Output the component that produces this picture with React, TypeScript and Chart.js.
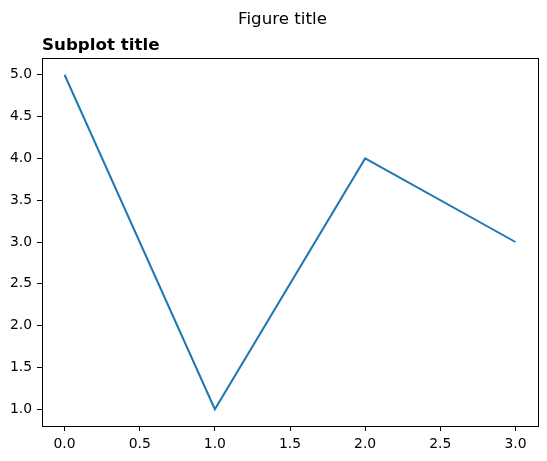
import React, { useEffect, useRef } from 'react';
import { Chart, registerables } from 'chart.js';

Chart.register(...registerables);

const xValues = [0, 1, 2, 3];
const yValues = [5, 1, 4, 3];
const xTicks = [0, 0.5, 1, 1.5, 2, 2.5, 3];
const yTicks = [1, 1.5, 2, 2.5, 3, 3.5, 4, 4.5, 5];

const FONT = "'DejaVu Sans', sans-serif";

// matplotlib-like frame and titles
const framePlugin = {
  id: 'frame',
  afterDraw(chart: Chart) {
    const { ctx, chartArea } = chart;
    ctx.save();
    ctx.strokeStyle = '#000';
    ctx.lineWidth = 1;
    ctx.strokeRect(
      Math.round(chartArea.left) + 0.5,
      Math.round(chartArea.top) + 0.5,
      Math.round(chartArea.right - chartArea.left),
      Math.round(chartArea.bottom - chartArea.top)
    );
    ctx.fillStyle = '#000';
    ctx.textBaseline = 'alphabetic';
    ctx.font = `16.7px ${FONT}`;
    ctx.textAlign = 'center';
    ctx.fillText('Figure title', 282.5, 24);
    ctx.font = `bold 16.7px ${FONT}`;
    ctx.textAlign = 'left';
    ctx.fillText('Subplot title', chartArea.left, 50);
    ctx.restore();
  },
};

export default function App() {
  const canvasRef = useRef<HTMLCanvasElement>(null);

  useEffect(() => {
    if (!canvasRef.current) return;
    const chart = new Chart(canvasRef.current, {
      type: 'line',
      data: {
        datasets: [
          {
            data: xValues.map((x, i) => ({ x, y: yValues[i] })),
            borderColor: '#1f77b4',
            borderWidth: 2,
            pointRadius: 0,
            fill: false,
            tension: 0,
          },
        ],
      },
      options: {
        responsive: false,
        animation: false,
        devicePixelRatio: 1,
        layout: { padding: { top: 58, right: 9, bottom: 0, left: 0 } },
        plugins: {
          legend: { display: false },
          tooltip: { enabled: false },
          title: { display: false },
        },
        scales: {
          x: {
            type: 'linear',
            min: -0.15,
            max: 3.15,
            afterBuildTicks: (scale: any) => {
              scale.ticks = xTicks.map((v) => ({ value: v }));
            },
            afterFit: (scale: any) => {
              scale.height = 35;
            },
            grid: { drawOnChartArea: false, drawTicks: true, tickLength: 5, color: '#000' },
            border: { display: false },
            ticks: {
              color: '#000',
              padding: 5,
              maxRotation: 0,
              autoSkip: false,
              font: { family: FONT, size: 13.9 },
              callback: (v: any) => Number(v).toFixed(1),
            },
          },
          y: {
            type: 'linear',
            min: 0.8,
            max: 5.2,
            afterBuildTicks: (scale: any) => {
              scale.ticks = yTicks.map((v) => ({ value: v }));
            },
            afterFit: (scale: any) => {
              scale.width = 42;
            },
            grid: { drawOnChartArea: false, drawTicks: true, tickLength: 5, color: '#000' },
            border: { display: false },
            ticks: {
              color: '#000',
              padding: 5,
              autoSkip: false,
              font: { family: FONT, size: 13.9 },
              callback: (v: any) => Number(v).toFixed(1),
            },
          },
        },
      },
      plugins: [framePlugin],
    });
    return () => chart.destroy();
  }, []);

  return (
    <div style={{ width: 547, height: 461, margin: -8, background: '#fff' }}>
      <canvas ref={canvasRef} width={547} height={461} />
    </div>
  );
}
